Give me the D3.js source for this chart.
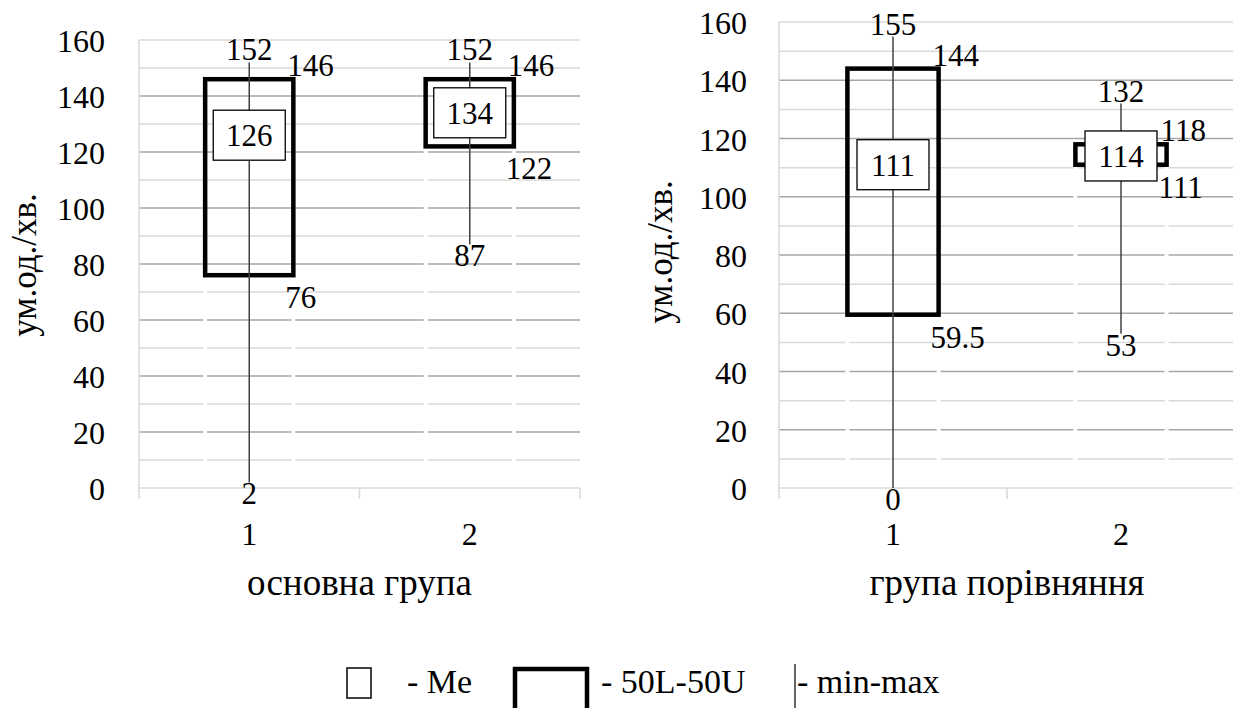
<!DOCTYPE html>
<html>
<head>
<meta charset="utf-8">
<script src="https://cdn.jsdelivr.net/npm/d3@7"></script>
<style>
  body { margin: 0; background: #fff; }
</style>
</head>
<body>
<div id="chart"></div>
<script>
const width = 1233;
const height = 708;

// data
const categories = ["1", "2"];
const yTicks = [0, 20, 40, 60, 80, 100, 120, 140, 160];

const mainMin = [2, 87];
const mainQ1 = [76, 122];
const mainMe = [126, 134];
const mainQ3 = [146, 146];
const mainMax = [152, 152];

const compMin = [0, 53];
const compQ1 = [59.5, 111];
const compMe = [111, 114];
const compQ3 = [144, 118];
const compMax = [155, 132];

const svg = d3.select("#chart")
  .append("svg")
  .attr("width", width)
  .attr("height", height)
  .style("font-family", "\"Liberation Serif\", \"Times New Roman\", serif");

function panel(cfg) {
  const g = svg.append("g");
  const x = d3.scaleBand().domain(categories).range([cfg.left, cfg.right]);
  const y = d3.scaleLinear().domain([0, 160]).range([cfg.bottom, cfg.top]);
  const bw = x.bandwidth() * 0.4;
  const cx = c => x(c) + x.bandwidth() / 2;

  // gridlines: minor (every 10) light, major (every 20) darker
  const minor = d3.range(10, 161, 10).filter(v => v % 20 !== 0 || v === 160);
  g.append("g").selectAll("line").data(minor).join("line")
    .attr("x1", cfg.left).attr("x2", cfg.right)
    .attr("y1", d => y(d)).attr("y2", d => y(d))
    .attr("stroke", "#d9d9d9").attr("stroke-width", 1.5);
  g.append("g").selectAll("line").data(yTicks.filter(v => v > 0 && v < 160)).join("line")
    .attr("x1", cfg.left).attr("x2", cfg.right)
    .attr("y1", d => y(d)).attr("y2", d => y(d))
    .attr("stroke", "#a6a6a6").attr("stroke-width", 1.5);
  g.append("line")
    .attr("x1", cfg.left).attr("x2", cfg.left)
    .attr("y1", y(160)).attr("y2", y(0))
    .attr("stroke", "#d9d9d9").attr("stroke-width", 1.5);

  // hidden stacked segment 0..Q1 (white edges cut the grid)
  g.append("g").selectAll("rect").data(categories).join("rect")
    .attr("x", d => cx(d) - bw / 2)
    .attr("width", bw)
    .attr("y", (d, i) => y(cfg.q1[i]))
    .attr("height", (d, i) => y(0) - y(cfg.q1[i]))
    .attr("fill", "none").attr("stroke", "#fff").attr("stroke-width", 4);

  // x axis
  const xa = g.append("g").attr("transform", `translate(0,${y(0)})`);
  xa.append("line").attr("x1", cfg.left).attr("x2", cfg.right)
    .attr("stroke", "#d9d9d9").attr("stroke-width", 1.5);
  xa.selectAll(".tk").data([cfg.left, (cfg.left + cfg.right) / 2, cfg.right]).join("line")
    .attr("x1", d => d).attr("x2", d => d).attr("y1", 0).attr("y2", 11)
    .attr("stroke", "#d9d9d9").attr("stroke-width", 1.5);
  xa.selectAll("text").data(categories).join("text")
    .attr("x", d => cx(d)).attr("y", 57)
    .attr("text-anchor", "middle").attr("font-size", 32)
    .text(d => d);

  // y tick labels
  g.append("g").selectAll("text").data(yTicks).join("text")
    .attr("x", cfg.labelRight).attr("y", d => y(d) + 12)
    .attr("text-anchor", "end").attr("font-size", 32)
    .text(d => d);

  // 50L-50U boxes
  g.append("g").selectAll("rect").data(categories).join("rect")
    .attr("x", d => cx(d) - bw / 2)
    .attr("width", bw)
    .attr("y", (d, i) => y(cfg.q3[i]))
    .attr("height", (d, i) => y(cfg.q1[i]) - y(cfg.q3[i]))
    .attr("fill", "none").attr("stroke", "#000").attr("stroke-width", 4.5);

  // min-max whiskers
  g.append("g").selectAll("line").data(categories).join("line")
    .attr("x1", d => cx(d)).attr("x2", d => cx(d))
    .attr("y1", (d, i) => y(cfg.min[i]))
    .attr("y2", (d, i) => y(cfg.max[i]))
    .attr("stroke", "#404040").attr("stroke-width", 1.5);

  const fs = 31;
  // median labels with white box
  const me = g.append("g").selectAll("g").data(categories).join("g")
    .attr("transform", (d, i) => `translate(${cx(d)},${y(cfg.me[i])})`);
  me.append("rect")
    .attr("x", -36).attr("y", -25).attr("width", 72).attr("height", 50)
    .attr("fill", "#fff").attr("stroke", "#000").attr("stroke-width", 1.3);
  me.append("text")
    .attr("text-anchor", "middle").attr("y", 11).attr("font-size", fs)
    .text((d, i) => cfg.me[i]);

  const lab = g.append("g").attr("font-size", fs);
  categories.forEach((c, i) => {
    lab.append("text").attr("x", cx(c)).attr("y", y(cfg.max[i]) - 2)
      .attr("text-anchor", "middle").text(cfg.max[i]);
    lab.append("text").attr("x", cx(c)).attr("y", y(cfg.min[i]) + 22)
      .attr("text-anchor", "middle").text(cfg.min[i]);
    lab.append("text").attr("x", cx(c) + bw / 2 - 6).attr("y", y(cfg.q3[i]) - 3)
      .text(cfg.q3[i]);
    lab.append("text").attr("x", cx(c) + bw / 2 - 8).attr("y", y(cfg.q1[i]) + 33)
      .text(cfg.q1[i]);
  });

  // axis titles
  g.append("text")
    .attr("x", (cfg.left + cfg.right) / 2).attr("y", 595)
    .attr("text-anchor", "middle").attr("font-size", 37)
    .text(cfg.xTitle);
  g.append("text")
    .attr("transform", `translate(${cfg.titleX},${cfg.titleY}) rotate(-90)`)
    .attr("text-anchor", "middle").attr("font-size", 35)
    .text("ум.од./хв.");
}

panel({
  left: 139, right: 580, top: 40, bottom: 488, labelRight: 105,
  titleX: 36, titleY: 265, xTitle: "основна група",
  min: mainMin, q1: mainQ1, me: mainMe, q3: mainQ3, max: mainMax
});
panel({
  left: 779, right: 1235, top: 22, bottom: 488, labelRight: 747,
  titleX: 672, titleY: 252, xTitle: "група порівняння",
  min: compMin, q1: compQ1, me: compMe, q3: compQ3, max: compMax
});

// legend
const leg = svg.append("g").attr("font-size", 34);
leg.append("rect").attr("x", 347).attr("y", 668).attr("width", 24).attr("height", 30)
  .attr("fill", "none").attr("stroke", "#000").attr("stroke-width", 1.5);
leg.append("text").attr("x", 407).attr("y", 693).text("- Me");
leg.append("rect").attr("x", 515).attr("y", 669).attr("width", 72).attr("height", 45)
  .attr("fill", "none").attr("stroke", "#000").attr("stroke-width", 4.5);
leg.append("text").attr("x", 601).attr("y", 693).text("- 50L-50U");
leg.append("line").attr("x1", 795).attr("x2", 795).attr("y1", 664).attr("y2", 708)
  .attr("stroke", "#000").attr("stroke-width", 1.2);
leg.append("text").attr("x", 797).attr("y", 693).text("- min-max");
</script>
</body>
</html>
